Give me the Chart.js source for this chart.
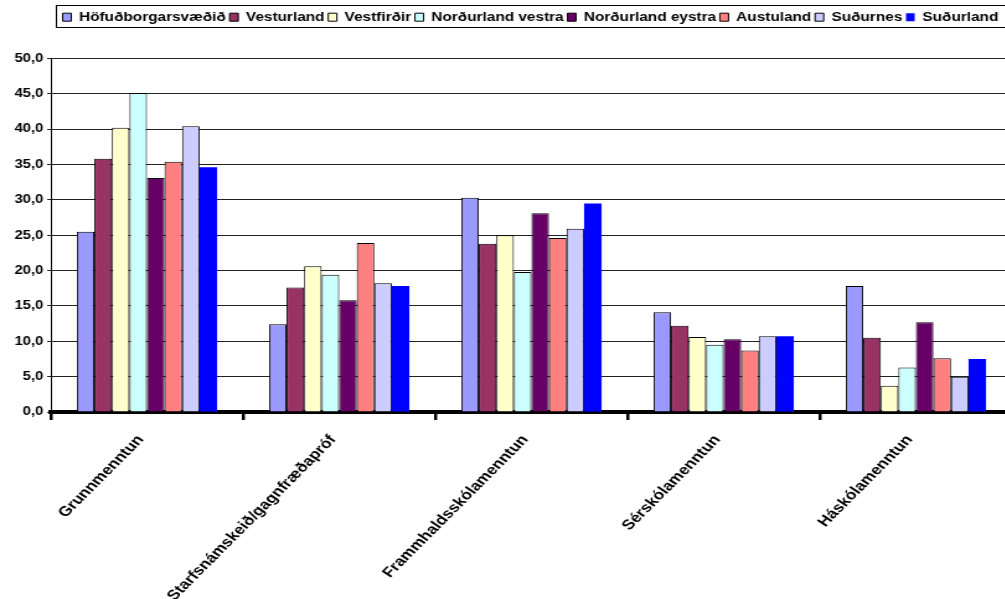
<!DOCTYPE html>
<html><head><meta charset="utf-8">
<script src="https://cdn.jsdelivr.net/npm/chart.js@4"></script>
<style>
html,body{margin:0;padding:0;overflow:hidden;background:#fff}
#c{display:block}
</style>
</head><body>
<canvas id="c" width="816" height="599" style="width:1012px;height:599px;display:block"></canvas>
<script>
const categories = ['Grunnmenntun','Starfsnámskeið/gagnfræðapróf','Frammhaldsskólamenntun','Sérskólamenntun','Háskólamenntun'];
const seriesNames = ['Höfuðborgarsvæðið','Vesturland','Vestfirðir','Norðurland vestra','Norðurland eystra','Austuland','Suðurnes','Suðurland'];
const hofudborgarsvaedid = [25.5, 12.4, 30.3, 14.1, 17.8];
const vesturland        = [35.8, 17.6, 23.8, 12.2, 10.5];
const vestfirdir        = [40.2, 20.6, 25.0, 10.6, 3.7];
const nordurlandVestra  = [45.1, 19.4, 19.8, 9.5, 6.3];
const nordurlandEystra  = [33.1, 15.8, 28.1, 10.3, 12.7];
const austuland         = [35.4, 23.9, 24.6, 8.7, 7.6];
const sudurnes          = [40.4, 18.2, 25.9, 10.7, 5.0];
const sudurland         = [34.6, 17.8, 29.5, 10.7, 7.5];
const yTicks = [0,5,10,15,20,25,30,35,40,45,50];

const seriesValues = [hofudborgarsvaedid, vesturland, vestfirdir, nordurlandVestra, nordurlandEystra, austuland, sudurnes, sudurland];
const colors = ['#9999FF','#993366','#FFFFCC','#CCFFFF','#660066','#FF8080','#CCCCFF','#0000FF'];
const borders = [1,1,1,1,1,1,1,0];
const FONT = 'Liberation Sans, Arial, sans-serif';

const legendExtra = {
  id: 'legendExtra',
  beforeLayout(chart) {
    const l = chart.legend;
    if (l && !l._patched) {
      const f = l.fit;
      l.fit = function () { f.call(this); this.height += 25; };
      l._patched = true;
    }
  },
  afterLayout(chart) {
    const l = chart.legend;
    if (l) { l.right -= 8; l.width -= 8; }
  },
  afterDraw(chart) {
    const l = chart.legend;
    if (!l || !l.legendHitBoxes || !l.legendHitBoxes.length) return;
    const hb = l.legendHitBoxes;
    const ctx = chart.ctx;
    ctx.save();
    ctx.strokeStyle = '#000';
    ctx.lineWidth = 1;
    const x0 = Math.round(hb[0].left) - 5.5;
    const y0 = Math.round(hb[0].top) - 5.5;
    const h = Math.round(hb[0].height) + 10;
    ctx.strokeRect(x0, y0, chart.width + 20 - x0, h);
    ctx.restore();
  }
};

new Chart(document.getElementById('c'), {
  type: 'bar',
  data: {
    labels: categories,
    datasets: seriesNames.map((n, i) => ({
      label: n,
      data: seriesValues[i],
      backgroundColor: colors[i],
      borderColor: '#000',
      borderWidth: borders[i],
      categoryPercentage: 0.73,
      barPercentage: 1.0
    }))
  },
  options: {
    responsive: false,
    maintainAspectRatio: false,
    animation: false,
    devicePixelRatio: 1,
    layout: { padding: { top: 8, left: 0, right: 0, bottom: 0 } },
    plugins: {
      tooltip: { enabled: false },
      legend: {
        position: 'top',
        align: 'end',
        labels: {
          boxWidth: 7, boxHeight: 8, padding: 3,
          color: '#000',
          font: { family: FONT, size: 12.4, weight: 'bold' }
        }
      }
    },
    scales: {
      x: {
        border: { display: true, color: '#000', width: 4 },
        grid: { display: true, drawOnChartArea: false, drawTicks: true, tickLength: 8, color: '#000', lineWidth: 2.5, offset: true },
        ticks: {
          color: '#000', maxRotation: 51, minRotation: 51, autoSkip: false, padding: 12, labelOffset: -5,
          font: { family: FONT, size: 14, weight: 'bold' }
        },
        afterFit(s) { s.height = 187; }
      },
      y: {
        min: 0, max: 50,
        afterBuildTicks(s) { s.ticks = yTicks.map(v => ({ value: v })); },
        border: { display: true, color: '#000', width: 1 },
        grid: { color: '#222', lineWidth: 1, tickLength: 3, drawTicks: true },
        ticks: {
          color: '#000', padding: 3,
          font: { family: FONT, size: 12, weight: 'bold' },
          callback: v => v.toFixed(1).replace('.', ',')
        },
        afterFit(s) { s.width = 41; }
      }
    }
  },
  plugins: [legendExtra]
});
</script>
</body></html>
